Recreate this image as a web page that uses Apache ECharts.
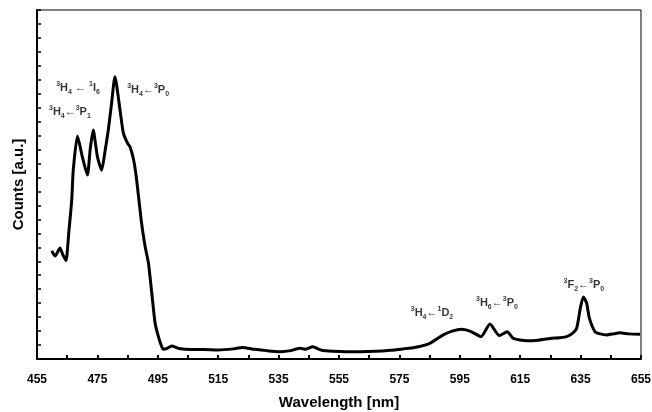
<!DOCTYPE html>
<html>
<head>
<meta charset="utf-8">
<script src="https://cdn.jsdelivr.net/npm/echarts@6/dist/echarts.min.js"></script>
<style>
html,body{margin:0;padding:0;background:#fff;}
#chart{width:652px;height:412px;}
</style>
</head>
<body>
<div id="chart"></div>
<script>
var wavelength = [459.9, 461, 462.6, 463.5, 464.6, 465.5, 466.5, 467.0, 468.4, 470, 471.7, 472.6, 473.6, 475, 476.4, 477.5, 478.6, 479.7, 480.8, 482.5, 483.6, 485.0, 485.8, 487, 488.0, 489.5, 490.8, 491.9, 493, 494.1, 495.2, 496.3, 496.8, 498, 499.6, 502, 506, 510, 515, 520, 523, 527, 531, 535.5, 539, 542, 544, 546.3, 549, 553, 557.5, 562, 567, 572, 576.2, 580, 585.1, 589.5, 592.5, 595.6, 598.9, 602, 605, 608.1, 610.7, 612.7, 617.2, 621, 624.9, 628, 630.4, 632.5, 633.7, 635, 635.9, 637, 637.9, 639.8, 641.5, 643.6, 646, 648, 651, 654.7];
var counts = [310, 295, 318, 300, 282, 360, 455, 541, 639, 580, 527, 600, 656, 580, 541, 594, 656, 733, 809, 713, 647, 618, 608, 570, 513, 398, 322, 275, 189, 103, 64, 35, 28, 30, 37, 30, 27, 27, 26, 29, 33, 28, 24, 21, 24, 31, 28, 35, 26, 22, 21, 21, 22, 25, 29, 33, 45, 69, 80, 85, 78, 64, 100, 67, 78, 59, 52, 54, 59, 61, 64, 75, 88, 150, 178, 160, 117, 78, 72, 69, 72, 75, 72, 71];

var xMin = 455, xMax = 655, xStep = 20;
var yMin = 0, yMax = 1000, yStep = 40;

var annotX = [468.6, 491.8, 465.9, 585.8, 607.3, 636.1];
var annotY = [776, 771, 708, 132, 160, 212];
var annotText = [
  '{sup|3}{m|H}{sub|4}{m| \u2190 }{sup|1}{m|I}{sub|6}',
  '{sup|3}{m|H}{sub|4}{m|\u2190}{sup|3}{m|P}{sub|0}',
  '{sup|3}{m|H}{sub|4}{m|\u2190}{sup|3}{m|P}{sub|1}',
  '{sup|3}{m|H}{sub|4}{m|\u2190}{sup|1}{m|D}{sub|2}',
  '{sup|3}{m|H}{sub|6}{m|\u2190}{sup|3}{m|P}{sub|0}',
  '{sup|3}{m|F}{sub|2}{m|\u2190}{sup|3}{m|P}{sub|0}'
];

var FONT = 'Arial, "Liberation Sans", Helvetica, sans-serif';

var lineData = wavelength.map(function (w, i) { return [w, counts[i]]; });
var annotData = annotX.map(function (x, i) { return { value: [x, annotY[i]], label: { formatter: annotText[i] } }; });

var chart = echarts.init(document.getElementById('chart'), null, { renderer: 'canvas' });
chart.setOption({
  animation: false,
  backgroundColor: '#ffffff',
  grid: { left: 37, right: 11, top: 10, bottom: 53, containLabel: false, outerBoundsMode: 'none', show: true, borderColor: '#000', borderWidth: 1, backgroundColor: 'transparent' },
  xAxis: {
    type: 'value', min: xMin, max: xMax, interval: xStep,
    name: 'Wavelength [nm]', nameLocation: 'middle', nameGap: 36,
    nameTextStyle: { fontFamily: FONT, fontWeight: 'bold', fontSize: 15, color: '#000' },
    axisLine: { show: true, lineStyle: { color: '#000', width: 2 } },
    axisTick: { show: true, inside: true, length: 4, lineStyle: { color: '#000', width: 2 } },
    minorTick: { show: true, splitNumber: 2, length: 4, lineStyle: { color: '#000', width: 2 } },
    axisLabel: { fontFamily: FONT, fontWeight: 'bold', fontSize: 12, color: '#000', margin: 15 },
    splitLine: { show: false }, minorSplitLine: { show: false }
  },
  yAxis: {
    type: 'value', min: yMin, max: yMax, interval: yStep,
    name: 'Counts [a.u.]', nameLocation: 'middle', nameGap: 11, nameRotate: 90,
    nameTextStyle: { fontFamily: FONT, fontWeight: 'bold', fontSize: 15, color: '#000' },
    axisLine: { show: true, lineStyle: { color: '#000', width: 2 } },
    axisTick: { show: true, inside: true, length: 4, lineStyle: { color: '#000', width: 1.5 } },
    axisLabel: { show: false },
    splitLine: { show: false }
  },
  series: [
    {
      type: 'line', data: lineData, showSymbol: false, smooth: 0.2,
      lineStyle: { color: '#000', width: 3 }, silent: true
    },
    {
      type: 'scatter', data: annotData, symbolSize: 0, silent: true,
      label: {
        show: true, position: 'inside', color: '#000',
        rich: {
          m: { fontFamily: FONT, fontSize: 11, fontWeight: 'bold', lineHeight: 15, color: '#000' },
          sup: { fontFamily: FONT, fontSize: 7, fontWeight: 'bold', lineHeight: 8, verticalAlign: 'top', color: '#000' },
          sub: { fontFamily: FONT, fontSize: 7, fontWeight: 'bold', lineHeight: 8, verticalAlign: 'bottom', color: '#000' }
        }
      }
    }
  ]
});
</script>
</body>
</html>
